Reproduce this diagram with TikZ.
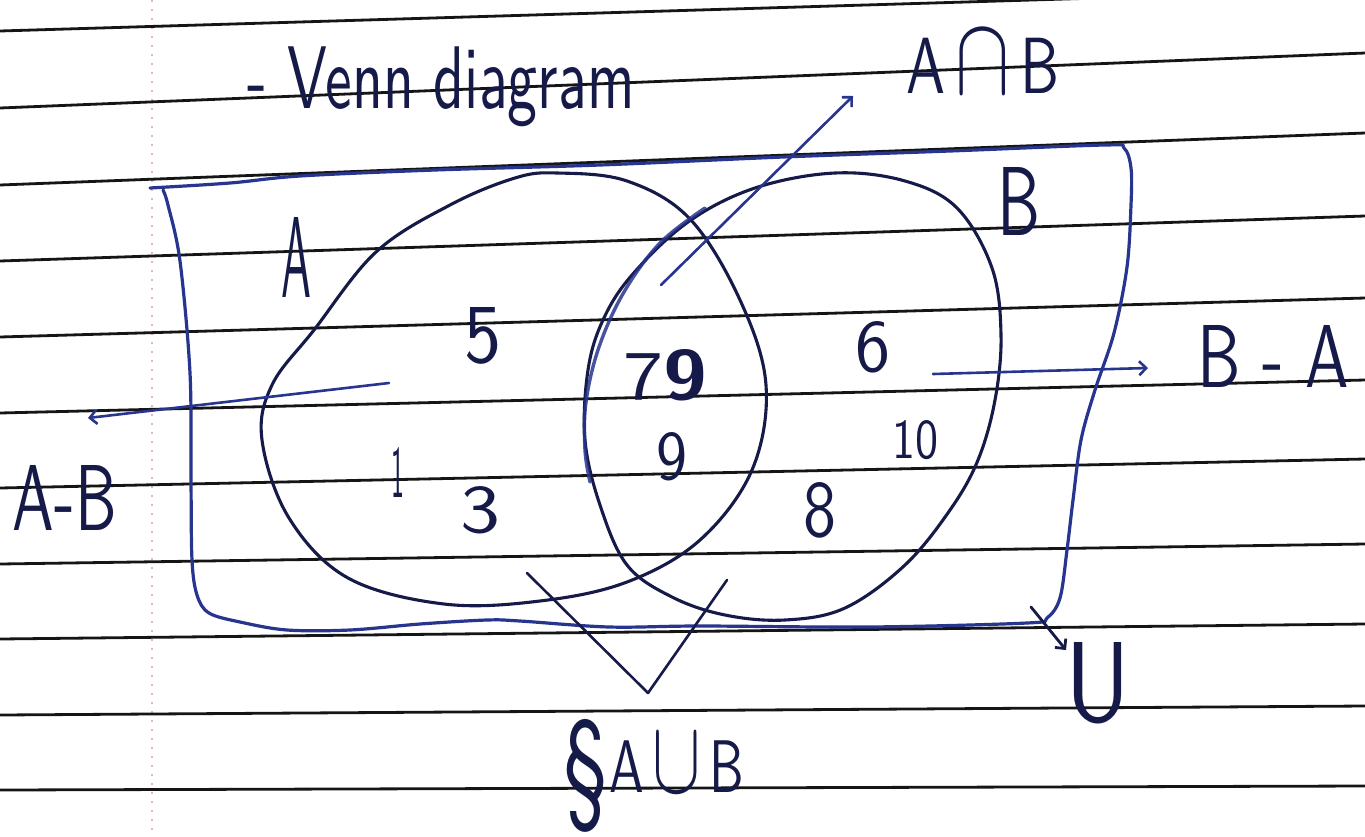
\documentclass[tikz,border=0pt]{standalone}
\usetikzlibrary{arrows.meta}
\usepackage{graphicx}
\definecolor{ink}{HTML}{161A48}
\definecolor{pen}{HTML}{27358F}
\definecolor{rulecol}{HTML}{151515}
\definecolor{margincol}{HTML}{E6B3BE}
\tikzset{
  every node/.style={inner sep=0pt, outer sep=0pt, text=ink, font=\sffamily},
  ruled/.style={draw=rulecol, line width=2.8pt},
  hand/.style={draw=ink, line width=3.1pt, line cap=round, line join=round},
  boxpen/.style={draw=pen, line width=3.2pt, line cap=round, line join=round},
  hilite/.style={draw=pen, line width=3.4pt, line cap=round, opacity=0.85},
  arrowpen/.style={draw=pen, line width=2.6pt, line cap=round, -{Straight Barb[length=7pt,width=14pt]}},
  arrowink/.style={draw=ink, line width=2.8pt, line cap=round, -{Straight Barb[length=7pt,width=14pt]}},
}
\begin{document}
\begin{tikzpicture}[x=1pt,y=-1pt]
\useasboundingbox (0,0) rectangle (1365,836);
\fill[white] (0,0) rectangle (1365,836);
\clip (0,0) rectangle (1365,836);
% margin
\draw[margincol, line width=1.4pt, dash pattern=on 2pt off 7pt] (152,0) -- (152,836);
% ruled lines
\foreach \a/\b in {31/-10,108/53,185/133,261/216,337/298,413/380,488/459,564/544,639/624,715/706,790/786}
  \draw[ruled] (0,\a) -- (1365,\b);
% universal rectangle
\draw[boxpen] plot[smooth, tension=0.55] coordinates {
 (150,188) (230,183) (300,176) (435,170) (600,165) (783,157) (950,151) (1105,145) (1124,148)
 (1131,168) (1131,205) (1127,267) (1114,333) (1095,390) (1081,440) (1073,500) (1067,550) (1060,598) (1047,618)
 (1027,623) (870,627) (700,626) (609,627) (520,621) (487,620) (420,624) (350,630) (287,630) (240,622)
 (209,613) (197,595) (192,560) (191,480) (190,373) (180,261) (168,205) (163,190)};
% circle A
\draw[hand] plot[smooth cycle, tension=0.6] coordinates {
 (557,173) (627,181) (690,219) (740,300) (766,385) (752,470) (700,540) (627,582) (540,601) (444,604)
 (348,578) (289,518) (262,440) (272,385) (314,330) (376,252) (450,205) (515,178)};
% circle B
\draw[hand] plot[smooth cycle, tension=0.6] coordinates {
 (835,173) (905,181) (957,208) (992,268) (1001,335) (995,400) (978,460) (950,510) (905,565) (845,608)
 (785,620) (725,615) (672,597) (627,565) (600,505) (585,440) (588,370) (603,320) (632,275) (688,222) (755,188)};
% highlighted intersection edge
\draw[hilite] plot[smooth, tension=0.6] coordinates {(705,208) (660,243) (624,292) (599,347) (586,402) (585,450) (590,482)};
% labels
\node (venn) at (441,87) {\resizebox*{387pt}{80pt}{- Venn diagram}};
\node (capAB) at (983,62) {\resizebox{152pt}{62pt}{A\,\scalebox{1.4}{$\cap$}\,B}};
\node (labA) at (296,257) {\resizebox{30pt}{80pt}{A}};
\node (labB) at (1019,201) {\resizebox{43pt}{68pt}{B}};
\node (n5) at (483,336) {\resizebox{37pt}{55pt}{5}};
\node (n79) at (665,375) {\resizebox{84pt}{50pt}{7{\bfseries 9}}};
\node (n9) at (672,457) {\resizebox{31pt}{47pt}{9}};
\node (n6) at (873,347) {\resizebox{35pt}{50pt}{6}};
\node (n10) at (915,440) {\resizebox{46pt}{38pt}{10}};
\node (n1) at (398,472) {\resizebox{13pt}{50pt}{1}};
\node (n3) at (480,510) {\resizebox{40pt}{46pt}{3}};
\node (n8) at (820,510) {\resizebox{33pt}{54pt}{8}};
\node (lBA) at (1273,356) {\resizebox{152pt}{62pt}{B - A}};
\node (lAB) at (65,498) {\resizebox{104pt}{65pt}{A-B}};
\node (lU) at (1098,683) {\resizebox{65pt}{79pt}{U}};
\node (sect) at (586,776) {\resizebox*{42pt}{113pt}{\S}};
\node (lUnion) at (677,763) {\resizebox{135pt}{58pt}{A\,\scalebox{1.4}{$\cup$}\,B}};
% connectors
\coordinate (capTail) at (661,285);
\coordinate (capTip) at (853,96);
\coordinate (abTail) at (389,383);
\coordinate (abTip) at (88,418);
\coordinate (baTail) at (933,374);
\coordinate (baTip) at (1148,368);
\coordinate (uTail) at (1031,607);
\coordinate (uTip) at (1066,650);
\coordinate (vL) at (527,573);
\coordinate (vB) at (648,693);
\coordinate (vR) at (727,580);
\draw[arrowpen] (capTail) -- (capTip);
\draw[arrowpen] (abTail) -- (abTip);
\draw[arrowpen] (baTail) -- (baTip);
\draw[arrowink] (uTail) -- (uTip);
\draw[hand, line width=2.6pt] (vL) -- (vB) -- (vR);
\end{tikzpicture}
\end{document}
